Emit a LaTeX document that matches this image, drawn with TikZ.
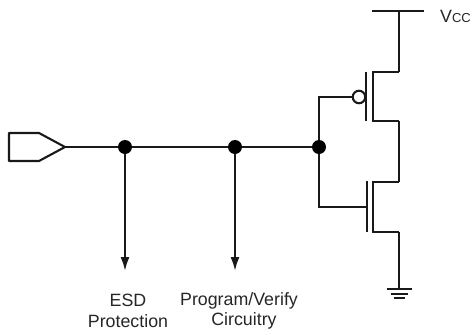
\documentclass[tikz,border=0pt]{standalone}
\usepackage{fontspec}
\setmainfont{Liberation Sans}
\usetikzlibrary{arrows.meta}
\tikzset{
  wire/.style={line width=2.1pt,black!90},
  dot/.style={circle,fill=black,inner sep=0pt,minimum size=14pt},
  bubble/.style={circle,draw=black!90,line width=2.1pt,fill=white,inner sep=0pt,minimum size=12.5pt},
  lab/.style={inner sep=0pt,font=\fontsize{17.8}{20}\selectfont,text=black!85},
  probe/.style={wire,-{Latex[length=14pt,width=9pt]}}
}
\begin{document}
\begin{tikzpicture}[x=1pt,y=-1pt]
    \useasboundingbox (0,0) rectangle (472,335);
    % input pin
    \coordinate (pinA) at (9,133);
    \coordinate (pinB) at (39,133);
    \coordinate (pinTip) at (65,147);
    \coordinate (pinC) at (39,161);
    \coordinate (pinD) at (9,161);
    \draw[wire,line join=round] (pinA)--(pinB)--(pinTip)--(pinC)--(pinD)--cycle;
    % input line
    \node[dot] (esd) at (125,147) {};
    \node[dot] (prog) at (235,147) {};
    \node[dot] (gate) at (319,147) {};
    \draw[wire] (pinTip)--(esd)--(prog)--(gate);
    % the two branches
    \coordinate (esdEnd) at (125,271);
    \coordinate (progEnd) at (235,271);
    \draw[probe] (esd)--(esdEnd);
    \draw[probe] (prog)--(progEnd);
    \node[lab] (esdA) at (128,300.5) {ESD};
    \node[lab] (esdB) at (128,321) {Protection};
    \node[lab] (progA) at (239,300.5) {Program/Verify};
    \node[lab] (progB) at (244,321) {Circuitry};
    % p transistor
    \node[bubble] (pBub) at (359,97) {};
    \coordinate (pGa) at (366,72);
    \coordinate (pGb) at (366,121);
    \coordinate (pCa) at (373,72);
    \coordinate (pCb) at (373,121);
    \coordinate (pDa) at (399,72);
    \coordinate (pDb) at (399,121);
    \coordinate (pIn) at (319,97);
    \draw[wire] (gate)--(pIn)--(pBub);
    \draw[wire] (pGa)--(pGb);
    \draw[wire] (pDa)--(pCa)--(pCb)--(pDb);
    % n transistor
    \coordinate (nGa) at (367,181);
    \coordinate (nGb) at (367,232);
    \coordinate (nCa) at (373,182);
    \coordinate (nCb) at (373,232);
    \coordinate (nDa) at (399,182);
    \coordinate (nDb) at (399,232);
    \coordinate (nIn) at (319,207);
    \coordinate (nMid) at (367,207);
    \draw[wire] (gate)--(nIn)--(nMid);
    \draw[wire] (nGa)--(nGb);
    \draw[wire] (nDa)--(nCa)--(nCb)--(nDb);
    \draw[wire] (pDb)--(nDa);
    % supply and ground
    \coordinate (vccL) at (372,11);
    \coordinate (vccM) at (399,11);
    \coordinate (vccR) at (424,11);
    \draw[wire] (vccL)--(vccR);
    \draw[wire] (vccM)--(pDa);
    \node[lab,anchor=west] (vcc) at (440,16) {V\fontsize{13}{15}\selectfont CC};
    \coordinate (gnd) at (399,289);
    \draw[wire] (nDb)--(gnd);
    \foreach \w/\y in {12.5/289,8.5/294,5.5/298}
    \draw[wire] (399-\w,\y)--(399+\w,\y);
\end{tikzpicture}
\end{document}
